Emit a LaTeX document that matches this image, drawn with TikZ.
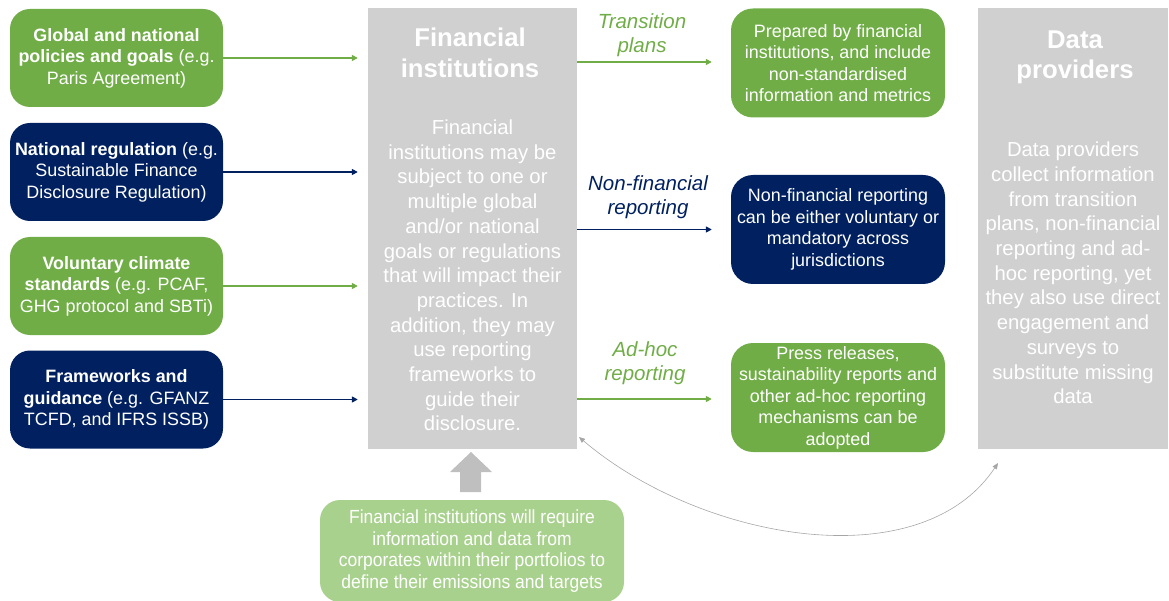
\documentclass[tikz,border=0pt]{standalone}
\usepackage{fontspec}
\setmainfont{Liberation Sans}
\newfontfamily\narrowfont[FakeStretch=0.92]{Liberation Sans}
\usetikzlibrary{arrows.meta}
\definecolor{cgreen}{HTML}{70AD47}
\definecolor{cnavy}{HTML}{002060}
\definecolor{cgray}{HTML}{D0D0D0}
\definecolor{clight}{HTML}{A9D18E}
\definecolor{cblock}{HTML}{BFBFBF}
\definecolor{ccurve}{HTML}{A6A6A6}
\tikzset{
  sidebox/.style={rounded corners=20pt, minimum width=213pt, minimum height=98pt, align=center, text=white, inner sep=0pt, font=\fontsize{17.9}{21.5}\selectfont},
  rbox/.style={sidebox, minimum width=214pt, minimum height=109pt, rounded corners=22pt},
  panel/.style={fill=cgray, inner sep=0pt, minimum height=441pt},
  ptitle/.style={align=center, text=white, font=\bfseries\fontsize{25.7}{30.5}\selectfont},
  pbody/.style={align=center, text=white, font=\fontsize{20.3}{24.7}\selectfont},
  lab/.style={align=center, font=\itshape\fontsize{20.5}{24.5}\selectfont},
  conn/.style={line width=1.5pt, -{Triangle[length=6pt,width=6pt]}},
}
\begin{document}
\begin{tikzpicture}[x=1pt,y=-1pt]
\useasboundingbox (0,0) rectangle (1169,601);
% left boxes
\node[sidebox, fill=cgreen] (l1) at (116.5,58) {\textbf{Global and national}\\\textbf{policies and goals} (e.g.\\Paris Agreement)};
\node[sidebox, fill=cnavy] (l2) at (116.5,172) {\textbf{National regulation} (e.g.\\Sustainable Finance\\Disclosure Regulation)};
\node[sidebox, fill=cgreen] (l3) at (116.5,286) {\textbf{Voluntary climate}\\\textbf{standards} (e.g. PCAF,\\GHG protocol and SBTi)};
\node[sidebox, fill=cnavy] (l4) at (116.5,399.5) {\textbf{Frameworks and}\\\textbf{guidance} (e.g. GFANZ\\TCFD, and IFRS ISSB)};
% financial institutions panel
\node[panel, minimum width=209pt] (fi) at (472.5,228.5) {};
\node[ptitle] (fit) at (470,53) {Financial\\institutions};
\node[pbody] (fib) at (472.5,275.5) {Financial\\institutions may be\\subject to one or\\multiple global\\and/or national\\goals or regulations\\that will impact their\\practices. In\\addition, they may\\use reporting\\frameworks to\\guide their\\disclosure.};
% data providers panel
\node[panel, minimum width=190pt] (dp) at (1073,228.5) {};
\node[ptitle] (dpt) at (1075,57.5) {Data\\providers};
\node[pbody] (dpb) at (1073,273) {Data providers\\collect information\\from transition\\plans, non-financial\\reporting and ad-\\hoc reporting, yet\\they also use direct\\engagement and\\surveys to\\substitute missing\\data};
% right boxes
\node[rbox, fill=cgreen] (r1) at (838,63) {Prepared by financial\\institutions, and include\\non-standardised\\information and metrics};
\node[rbox, fill=cnavy] (r2) at (838,229.5) {Non-financial reporting\\can be either voluntary or\\mandatory across\\jurisdictions};
\node[rbox, fill=cgreen] (r3) at (838,397.5) {Press releases,\\sustainability reports and\\other ad-hoc reporting\\mechanisms can be\\adopted};
% labels
\node[lab, text=cgreen] (t1) at (642,35) {Transition\\plans};
\node[lab, text=cnavy] (t2) at (648,197) {Non-financial\\reporting};
\node[lab, text=cgreen] (t3) at (645,363) {Ad-hoc\\reporting};
% bottom box
\node[sidebox, fill=clight, minimum width=304pt, minimum height=102pt, font=\narrowfont\fontsize{19}{21.7}\selectfont] (bt) at (472,551) {Financial institutions will require\\information and data from\\corporates within their portfolios to\\define their emissions and targets};
% connectors left
\draw[conn, cgreen] (l1.east) -- ([xshift=-10pt]l1.east -| fi.west);
\draw[conn, cnavy] (l2.east) -- ([xshift=-10pt]l2.east -| fi.west);
\draw[conn, cgreen] (l3.east) -- ([xshift=-10pt]l3.east -| fi.west);
\draw[conn, cnavy] (l4.east) -- ([xshift=-10pt]l4.east -| fi.west);
% connectors right
\draw[conn, cgreen] ([yshift=1pt]r1.west -| fi.east) -- ([xshift=-19pt,yshift=1pt]r1.west);
\draw[conn, cnavy] (r2.west -| fi.east) -- ([xshift=-19pt]r2.west);
\draw[conn, cgreen] ([yshift=-1.5pt]r3.west -| fi.east) -- ([xshift=-19pt,yshift=-1.5pt]r3.west);
% block arrow up
\fill[cblock] (471,452) -- (492,472) -- (481,472) -- (481,492) -- (460,492) -- (460,472) -- (450,472) -- cycle;
% curved two-headed arrow
\coordinate (cs) at (579,437);
\coordinate (ce) at (998,463);
\draw[ccurve, line width=0.6pt, {Triangle[length=6pt,width=5pt]}-{Triangle[length=6pt,width=5pt]}] (cs) .. controls (700,540) and (920,580) .. (ce);
\end{tikzpicture}
\end{document}
